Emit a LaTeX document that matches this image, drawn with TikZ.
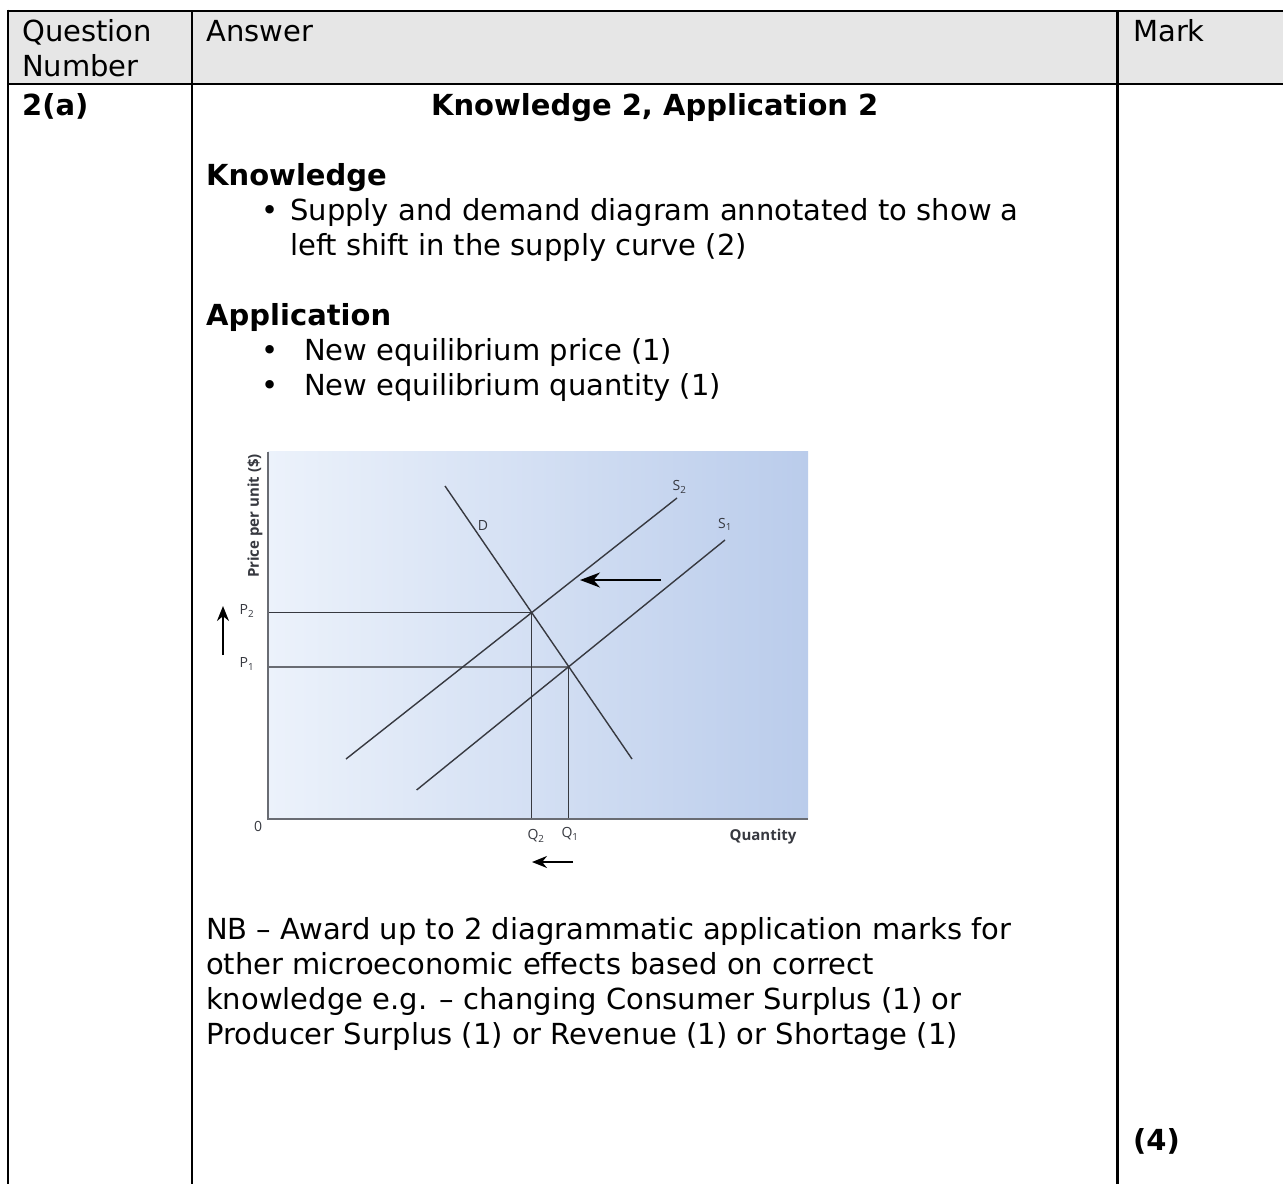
\documentclass[tikz,border=0pt]{standalone}
\usepackage{fontspec}
\setmainfont{DejaVu Sans}
\newfontfamily\chartfont{Open Sans}
\usetikzlibrary{arrows.meta}
\definecolor{hdrgray}{RGB}{230,230,230}
\definecolor{bgL}{RGB}{236,242,251}
\definecolor{bgR}{RGB}{186,204,235}
\definecolor{curve}{RGB}{55,57,64}
\definecolor{axisgray}{RGB}{105,108,115}
\begin{document}
\begin{tikzpicture}[x=1pt,y=-1pt,
  txt/.style={anchor=base west,inner sep=0pt,font=\fontsize{29}{35}\selectfont},
  btxt/.style={txt,font=\fontsize{29}{35}\selectfont\bfseries},
  tableline/.style={line width=2.6pt,black},
  curveline/.style={line width=1.4pt,curve},
  guide/.style={line width=1.4pt,curve},
  guidethick/.style={line width=2.4pt,axisgray},
  axisline/.style={line width=2.4pt,axisgray},
  clab/.style={inner sep=0pt,font=\chartfont\fontsize{14}{16}\selectfont,text=curve},
  shiftarrow/.style={line width=2pt,black,-{Stealth[length=20pt,width=15pt]}},
  smallarrow/.style={line width=2pt,black,-{Stealth[length=15pt,width=12pt]}}]
\useasboundingbox (0,0) rectangle (1283,1184);
\fill[white] (0,0) rectangle (1283,1184);
% ---------- table ----------
\fill[hdrgray] (8,11) rectangle (1283,84);
\draw[tableline] (8,11) -- (1283,11);
\draw[tableline] (8,84) -- (1283,84);
\draw[tableline] (8,9.7) -- (8,1184);
\draw[tableline] (192,11) -- (192,1184);
\draw[tableline] (1117.5,11) -- (1117.5,1184);
% header
\node[txt] (hq) at (22,41.7) {Question};
\node[txt] (hn) at (22,76.7) {Number};
\node[txt] (ha) at (206,41.7) {Answer};
\node[txt] (hm) at (1133,41.7) {Mark};
% row
\node[btxt] (qnum) at (22,115) {2(a)};
\node[btxt,anchor=base] (title) at (654.7,115) {Knowledge 2, Application 2};
\node[btxt] (know) at (206,185) {Knowledge};
\node[txt] (b1) at (261,220) {•};
\node[txt] (k1) at (290,220) {Supply and demand diagram annotated to show a};
\node[txt] (k2) at (290,255) {left shift in the supply curve (2)};
\node[btxt] (appl) at (206,325) {Application};
\node[txt] (b2) at (261,360) {•};
\node[txt] (a1) at (304,360) {New equilibrium price (1)};
\node[txt] (b3) at (261,395) {•};
\node[txt] (a2) at (304,395) {New equilibrium quantity (1)};
\node[txt] (nb1) at (206,939) {NB – Award up to 2 diagrammatic application marks for};
\node[txt] (nb2) at (206,974) {other microeconomic effects based on correct};
\node[txt] (nb3) at (206,1009) {knowledge e.g. – changing Consumer Surplus (1) or};
\node[txt] (nb4) at (206,1044) {Producer Surplus (1) or Revenue (1) or Shortage (1)};
\node[btxt] (mark) at (1133,1150) {(4)};
% ---------- chart ----------
\shade[left color=bgL,right color=bgR] (268,451.7) rectangle (808,819);
\coordinate (origin) at (268,819);
\coordinate (ytop) at (268,451.7);
\coordinate (xend) at (808,819);
\coordinate (e2) at (531.7,612.7);
\coordinate (e1) at (568.5,666.7);
\coordinate (p2) at (268,612.7);
\coordinate (p1) at (268,666.7);
\coordinate (q2) at (531.7,819);
\coordinate (q1) at (568.5,819);
\coordinate (dtop) at (445,486);
\coordinate (dbot) at (632,759);
\coordinate (s2top) at (677,498);
\coordinate (s2bot) at (346,759);
\coordinate (s1top) at (725,540);
\coordinate (s1bot) at (416.6,790);
\draw[guidethick] (p1) -- (e1);
\draw[guide] (p2) -- (e2);
\draw[guide] (e2) -- (q2);
\draw[guide] (e1) -- (q1);
\draw[curveline] (dtop) -- (dbot);
\draw[curveline] (s2bot) -- (s2top);
\draw[curveline] (s1bot) -- (s1top);
\draw[axisline] (ytop) -- (origin) -- (xend);
\node[clab] (dlab) at (483,525) {D};
\node[clab] (s2lab) at (679.5,487) {S\textsubscript{2}};
\node[clab] (s1lab) at (725,524.5) {S\textsubscript{1}};
\node[clab] (p2lab) at (247,611) {P\textsubscript{2}};
\node[clab] (p1lab) at (247,664) {P\textsubscript{1}};
\node[clab] (zero) at (258,826) {0};
\node[clab] (q2lab) at (536,836) {Q\textsubscript{2}};
\node[clab] (q1lab) at (570,834) {Q\textsubscript{1}};
\node[clab,font=\chartfont\bfseries\fontsize{15}{17}\selectfont] (qty) at (763,836.5) {Quantity};
\node[clab,rotate=90,font=\chartfont\bfseries\fontsize{15}{17}\selectfont] (ylab) at (255,516) {Price per unit (\$)};
\coordinate (sa1) at (661,580);
\coordinate (sa2) at (580,580);
\draw[shiftarrow] (sa1) -- (sa2);
\coordinate (pa1) at (223,655);
\coordinate (pa2) at (223,606);
\draw[smallarrow] (pa1) -- (pa2);
\coordinate (qa1) at (573,862);
\coordinate (qa2) at (532,862);
\draw[smallarrow] (qa1) -- (qa2);
\end{tikzpicture}
\end{document}
